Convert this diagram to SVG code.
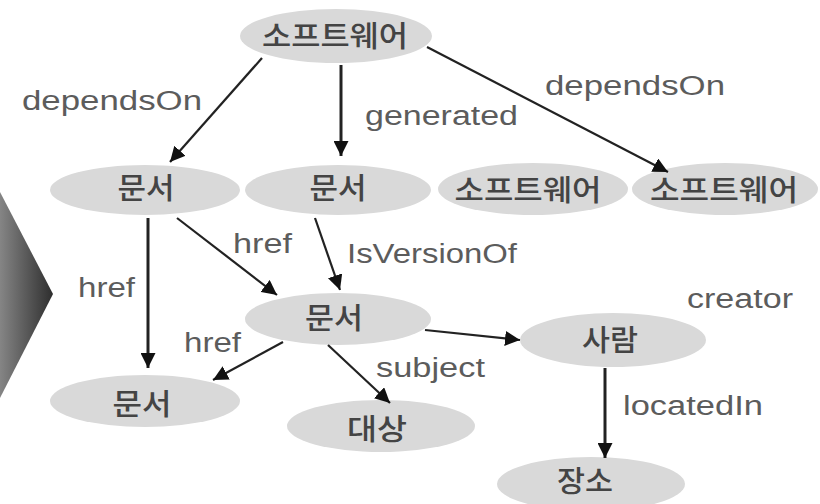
<svg xmlns="http://www.w3.org/2000/svg" width="820" height="504" viewBox="0 0 820 504">
<style>
.node ellipse{fill:#d9d9d9;stroke:none}
.node text{font-family:"Noto Sans CJK KR","Noto Sans CJK SC",sans-serif;font-size:29px;font-weight:500;fill:#444;text-anchor:middle;dominant-baseline:central}
.edge{stroke:#222;stroke-width:2.2;fill:none;marker-end:url(#ah)}
.thick{stroke-width:3}
.lbl{font-family:"Liberation Sans",Arial,sans-serif;font-size:27px;fill:#5c5c5c}
</style>
<defs>
<marker id="ah" viewBox="0 0 14 14" refX="14" refY="7" markerWidth="15" markerHeight="15" markerUnits="userSpaceOnUse" orient="auto">
<path d="M0,0 L14,7 L0,14 z" fill="#111"/>
</marker>
<linearGradient id="chev" x1="0" y1="0" x2="1" y2="0">
<stop offset="0" stop-color="#858585"/>
<stop offset="1" stop-color="#2e2e2e"/>
</linearGradient>
</defs>
<rect width="820" height="504" fill="#fff"/>
<polygon points="0,192 53,294 0,398" fill="url(#chev)"/>

<g id="n_sw_top" class="node"><ellipse cx="336" cy="36" rx="96" ry="27"/><text x="335" y="34" textLength="146" lengthAdjust="spacingAndGlyphs">소프트웨어</text></g>
<g id="n_doc1" class="node"><ellipse cx="145" cy="190" rx="95" ry="25"/><text x="146" y="186" textLength="57" lengthAdjust="spacingAndGlyphs">문서</text></g>
<g id="n_doc2" class="node"><ellipse cx="338" cy="190" rx="93" ry="25"/><text x="338" y="186" textLength="57" lengthAdjust="spacingAndGlyphs">문서</text></g>
<g id="n_sw3" class="node"><ellipse cx="533" cy="189" rx="95" ry="26"/><text x="528" y="188" textLength="147" lengthAdjust="spacingAndGlyphs">소프트웨어</text></g>
<g id="n_sw4" class="node"><ellipse cx="725" cy="189" rx="93" ry="26"/><text x="724" y="188" textLength="148" lengthAdjust="spacingAndGlyphs">소프트웨어</text></g>
<g id="n_doc_c" class="node"><ellipse cx="338" cy="319" rx="93" ry="26"/><text x="334" y="316" textLength="58" lengthAdjust="spacingAndGlyphs">문서</text></g>
<g id="n_person" class="node"><ellipse cx="613" cy="340" rx="93" ry="27"/><text x="610" y="338" textLength="56" lengthAdjust="spacingAndGlyphs">사람</text></g>
<g id="n_doc_b" class="node"><ellipse cx="145" cy="401" rx="95" ry="26"/><text x="142" y="402" textLength="59" lengthAdjust="spacingAndGlyphs">문서</text></g>
<g id="n_target" class="node"><ellipse cx="381" cy="426" rx="94" ry="26"/><text x="377" y="427" textLength="60" lengthAdjust="spacingAndGlyphs">대상</text></g>
<g id="n_place" class="node"><ellipse cx="591" cy="484" rx="94" ry="27"/><text x="585" y="479" textLength="56" lengthAdjust="spacingAndGlyphs">장소</text></g>

<g id="connectors">
<line class="edge" x1="262" y1="58" x2="170" y2="162"/>
<line class="edge thick" x1="341" y1="65" x2="341" y2="156"/>
<line class="edge" x1="427" y1="47" x2="668" y2="172"/>
<line class="edge thick" x1="148" y1="218" x2="148" y2="368"/>
<line class="edge" x1="177" y1="218" x2="277" y2="295"/>
<line class="edge" x1="315" y1="218" x2="340" y2="290"/>
<line class="edge" x1="425" y1="330" x2="520" y2="340"/>
<line class="edge" x1="283" y1="342" x2="213" y2="380"/>
<line class="edge" x1="328" y1="345" x2="390" y2="403"/>
<line class="edge thick" x1="605" y1="368" x2="605" y2="458"/>
</g>

<g id="labels">
<text class="lbl" x="22" y="110" textLength="180" lengthAdjust="spacingAndGlyphs">dependsOn</text>
<text class="lbl" x="365" y="125" textLength="153" lengthAdjust="spacingAndGlyphs">generated</text>
<text class="lbl" x="545" y="95" textLength="180" lengthAdjust="spacingAndGlyphs">dependsOn</text>
<text class="lbl" x="233" y="253" textLength="59" lengthAdjust="spacingAndGlyphs">href</text>
<text class="lbl" x="347" y="263" textLength="170" lengthAdjust="spacingAndGlyphs">IsVersionOf</text>
<text class="lbl" x="78" y="297" textLength="57" lengthAdjust="spacingAndGlyphs">href</text>
<text class="lbl" x="184" y="352" textLength="57" lengthAdjust="spacingAndGlyphs">href</text>
<text class="lbl" x="376" y="377" textLength="109" lengthAdjust="spacingAndGlyphs">subject</text>
<text class="lbl" x="687" y="308" textLength="106" lengthAdjust="spacingAndGlyphs">creator</text>
<text class="lbl" x="623" y="415" textLength="140" lengthAdjust="spacingAndGlyphs">locatedIn</text>
</g>
</svg>
